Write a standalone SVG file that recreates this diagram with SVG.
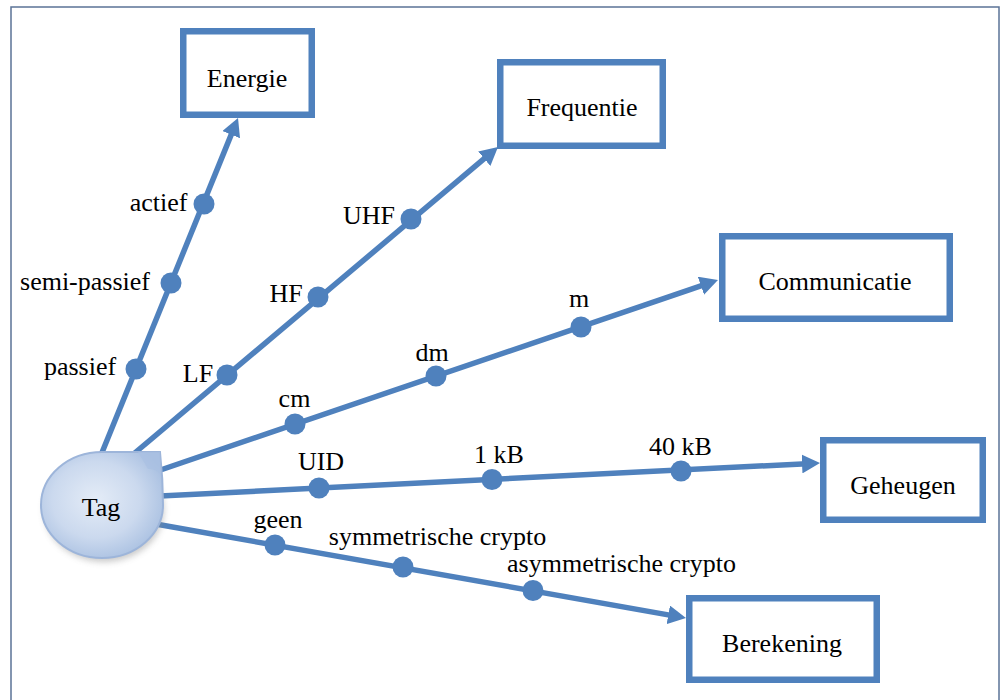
<svg xmlns="http://www.w3.org/2000/svg" width="1002" height="700" viewBox="0 0 1002 700">
<defs>
<style>
.box{fill:#ffffff;stroke:#4f81bd;stroke-width:6.5}
.conn{fill:none;stroke:#4f81bd;stroke-width:5.5;marker-end:url(#arr)}
.dot{fill:#4f81bd}
</style>
<marker id="arr" markerUnits="userSpaceOnUse" viewBox="0 0 18 19" markerWidth="18" markerHeight="19" refX="10" refY="9.5" orient="auto">
<path d="M0,0 L18,9.5 L0,19 Z" fill="#4f81bd"/>
</marker>
<radialGradient id="tagg" cx="0.45" cy="0.45" r="0.6">
<stop offset="0" stop-color="#e4ecf7"/>
<stop offset="0.6" stop-color="#cbd9ee"/>
<stop offset="1" stop-color="#a9c0e1"/>
</radialGradient>
<filter id="sh" x="-30%" y="-30%" width="160%" height="160%">
<feGaussianBlur stdDeviation="3"/>
</filter>
</defs>
<rect x="11" y="7" width="988" height="720" fill="none" stroke="#5b7397" stroke-width="1.5"/>
<g id="connectors">
<line class="conn" x1="101" y1="455" x2="235" y2="125.4"/>
<line class="conn" x1="130" y1="457" x2="491.9" y2="152.2"/>
<line class="conn" x1="140" y1="477" x2="710.4" y2="282.6"/>
<line class="conn" x1="140" y1="497" x2="812" y2="463.4"/>
<line class="conn" x1="150" y1="523" x2="678.1" y2="616.6"/>
<g class="dot">
<circle cx="204" cy="204" r="10.5"/>
<circle cx="171" cy="283" r="10.5"/>
<circle cx="136" cy="369" r="10.5"/>
<circle cx="227" cy="375" r="10.5"/>
<circle cx="318" cy="297" r="10.5"/>
<circle cx="411" cy="219" r="10.5"/>
<circle cx="295" cy="424" r="10.5"/>
<circle cx="436" cy="376" r="10.5"/>
<circle cx="581" cy="327" r="10.5"/>
<circle cx="319" cy="488" r="10.5"/>
<circle cx="492" cy="479.5" r="10.5"/>
<circle cx="681" cy="471" r="10.5"/>
<circle cx="275" cy="545" r="10.5"/>
<circle cx="403" cy="567" r="10.5"/>
<circle cx="533" cy="590.5" r="10.5"/>
</g>
<g font-family="Liberation Serif, serif" font-size="26" fill="#000" text-anchor="middle">
<text x="158.5" y="211" font-family="Liberation Serif, serif">actief</text>
<text x="85" y="290" font-family="Liberation Serif, serif">semi-passief</text>
<text x="80" y="375" font-family="Liberation Serif, serif">passief</text>
<text x="198" y="382" font-family="Liberation Serif, serif">LF</text>
<text x="286" y="302" font-family="Liberation Serif, serif">HF</text>
<text x="369" y="224" font-family="Liberation Serif, serif">UHF</text>
<text x="294.5" y="407" font-family="Liberation Serif, serif">cm</text>
<text x="432" y="361" font-family="Liberation Serif, serif">dm</text>
<text x="579" y="307" font-family="Liberation Serif, serif">m</text>
<text x="321" y="470" font-family="Liberation Serif, serif">UID</text>
<text x="499" y="463" font-family="Liberation Serif, serif">1 kB</text>
<text x="680.5" y="455" font-family="Liberation Serif, serif">40 kB</text>
<text x="278" y="528" font-family="Liberation Serif, serif">geen</text>
<text x="437.5" y="545" font-family="Liberation Serif, serif">symmetrische crypto</text>
<text x="621.5" y="572" font-family="Liberation Serif, serif">asymmetrische crypto</text>
</g>
</g>
<g id="tag">
<ellipse cx="104" cy="510" rx="60" ry="52" fill="#8a8a8a" opacity="0.45" filter="url(#sh)"/>
<path d="M102,452 L160,452 C162,470 163,490 163,505 A61,53 0 1 1 102,452 Z" fill="url(#tagg)" stroke="#9db5da" stroke-width="2"/>
<path d="M138,452 L160,452 L161,474 C157,470 152,469 148,469 Z" fill="#a9c0e2" opacity="0.7"/>
<text x="101" y="516" font-family="Liberation Serif, serif" font-size="26" text-anchor="middle">Tag</text>
</g>
<g id="energie">
<rect class="box" x="183.25" y="31.25" width="128.5" height="83.5"/>
<text x="247" y="87" font-family="Liberation Serif, serif" font-size="26" text-anchor="middle">Energie</text>
</g>
<g id="frequentie">
<rect class="box" x="500.25" y="62.25" width="162.5" height="83.5"/>
<text x="582" y="116" font-family="Liberation Serif, serif" font-size="26" text-anchor="middle">Frequentie</text>
</g>
<g id="communicatie">
<rect class="box" x="722.25" y="236.25" width="227.5" height="82.5"/>
<text x="835" y="290" font-family="Liberation Serif, serif" font-size="26" text-anchor="middle">Communicatie</text>
</g>
<g id="geheugen">
<rect class="box" x="823.25" y="440.25" width="159.5" height="79.5"/>
<text x="903" y="494" font-family="Liberation Serif, serif" font-size="26" text-anchor="middle">Geheugen</text>
</g>
<g id="berekening">
<rect class="box" x="689.25" y="598.25" width="187.5" height="81.5"/>
<text x="782" y="652" font-family="Liberation Serif, serif" font-size="26" text-anchor="middle">Berekening</text>
</g>
</svg>
